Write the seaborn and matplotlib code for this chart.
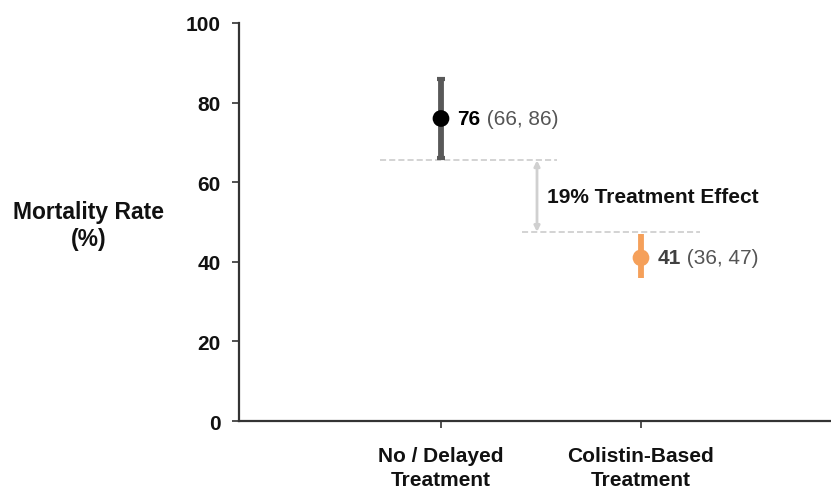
import matplotlib
matplotlib.use("Agg")
import matplotlib.pyplot as plt
import seaborn as sns
import pandas as pd

categories = ["No / Delayed\nTreatment", "Colistin-Based\nTreatment"]
mortality = [76, 41]
ci_low = [66, 36]
ci_high = [86, 47]
point_colors = ["#000000", "#F5A05A"]
bar_colors = ["#595959", "#F5A05A"]
effect_label = "19% Treatment Effect"
ref_levels = [65.5, 47.5]
yticks = [0, 20, 40, 60, 80, 100]

sns.set_theme(style="white")
plt.rcParams["font.family"] = ["Liberation Sans", "DejaVu Sans"]

df = pd.DataFrame({"cat": categories, "rate": mortality})

fig = plt.figure(figsize=(8.31, 4.89), dpi=100)
ax = fig.add_axes([0.2876, 0.137, 0.7124, 0.814])

xs = list(range(len(categories)))
cap_sizes = [3, 0]
for i in xs:
    ax.errorbar(i, mortality[i],
                yerr=[[mortality[i] - ci_low[i]], [ci_high[i] - mortality[i]]],
                fmt="none", ecolor=bar_colors[i], elinewidth=4.2,
                capsize=cap_sizes[i], capthick=3, zorder=2)

sns.scatterplot(data=df, x="cat", y="rate", hue="cat", palette=point_colors,
                s=145, edgecolor="none", legend=False, ax=ax, zorder=3)

# reference dashed lines
ax.plot([-0.305, 0.58], [ref_levels[0]] * 2, ls=(0, (4, 2)), color="#c8c8c8", lw=1.1, zorder=1)
ax.plot([0.405, 1.295], [ref_levels[1]] * 2, ls=(0, (4, 2)), color="#c8c8c8", lw=1.1, zorder=1)
ax.annotate("", xy=(0.48, ref_levels[0]), xytext=(0.48, ref_levels[1]),
            arrowprops=dict(arrowstyle="<|-|>", color="#d0d0d0", lw=2,
                            mutation_scale=8, shrinkA=0, shrinkB=0))
ax.text(0.53, 56.4, effect_label, fontsize=15, fontweight="bold",
        color="#111111", va="center", ha="left")

# value labels
main_colors = ["#000000", "#404040"]
for i in xs:
    t = ax.text(i + 0.083, mortality[i], f"{mortality[i]}", fontsize=15,
                fontweight="bold", color=main_colors[i], va="center", ha="left")
    ax.annotate(f" ({ci_low[i]}, {ci_high[i]})", xy=(1, 0.5), xycoords=t,
                va="center", ha="left", fontsize=15, color="#555555")

ax.set_xlim(-1.01, 1.95)
ax.set_ylim(0, 100)
ax.set_yticks(yticks)
ax.set_xticks(xs)
ax.set_xticklabels(categories, fontsize=15, fontweight="bold", color="#111111",
                   linespacing=1.3)
ax.set_yticklabels([str(v) for v in yticks], fontsize=15, fontweight="bold",
                   color="#111111")
ax.tick_params(axis="both", which="both", direction="out", length=5, width=1.2,
               color="#333333", left=True, bottom=True)
ax.tick_params(axis="x", pad=13)
ax.tick_params(axis="y", pad=8)
ax.set_xlabel("")
ax.set_ylabel("")
for side in ["top", "right"]:
    ax.spines[side].set_visible(False)
for side in ["left", "bottom"]:
    ax.spines[side].set_color("#333333")
    ax.spines[side].set_linewidth(1.6)

fig.text(0.1065, 0.538, "Mortality Rate\n(%)", fontsize=16.5, fontweight="bold",
         ha="center", va="center", color="#111111", linespacing=1.25)

fig.savefig("out.png", dpi=100)
